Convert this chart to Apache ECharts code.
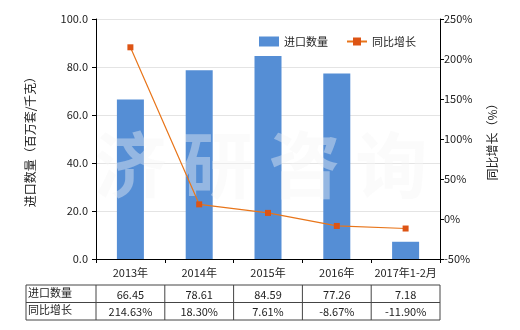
<!DOCTYPE html>
<html><head><meta charset="utf-8">
<script src="https://cdn.jsdelivr.net/npm/echarts@6/dist/echarts.min.js"></script>
<style>html,body{margin:0;padding:0;background:#fff}#c{width:520px;height:330px}</style>
</head><body><div id="c"></div>
<script>
const categories = ['2013年', '2014年', '2015年', '2016年', '2017年1-2月'];
const importQty = [66.45, 78.61, 84.59, 77.26, 7.18];
const yoyGrowth = [214.63, 18.30, 7.61, -8.67, -11.90];
const qtyLabels = ['66.45', '78.61', '84.59', '77.26', '7.18'];
const growthLabels = ['214.63%', '18.30%', '7.61%', '-8.67%', '-11.90%'];
const seriesNames = ['进口数量', '同比增长'];
const leftTitle = '进口数量（百万套/千克）';
const rightTitle = '同比增长（%）';
const watermark = ['济', '研', '咨', '询'];

const FONT = '"Noto Sans CJK SC", sans-serif';
const TXT = '#222';
const chart = echarts.init(document.getElementById('c'), null, {renderer: 'canvas'});
const G = {left: 96, right: 80, top: 19, bottom: 71};

chart.setOption({
  animation: false,
  textStyle: {fontFamily: FONT},
  legend: {
    left: 254, top: 31, itemWidth: 20, itemHeight: 10, itemGap: 18,
    textStyle: {fontSize: 11, color: TXT, fontFamily: FONT},
    data: [{name: seriesNames[0], icon: 'rect'}, {name: seriesNames[1]}]
  },
  grid: G,
  xAxis: {
    type: 'category', data: categories,
    axisLine: {lineStyle: {color: '#000'}},
    axisTick: {show: true, length: 4, lineStyle: {color: '#000'}},
    axisLabel: {fontSize: 11, color: TXT, margin: 8, fontFamily: FONT, interval: 0}
  },
  yAxis: [{
    type: 'value', min: 0, max: 100, interval: 20,
    name: leftTitle, nameLocation: 'middle', nameGap: 60,
    nameTextStyle: {fontSize: 12, color: TXT, fontFamily: FONT},
    axisLine: {show: true, lineStyle: {color: '#000'}},
    axisTick: {show: true, length: 4, lineStyle: {color: '#000'}},
    axisLabel: {fontSize: 11, color: TXT, formatter: v => v.toFixed(1), fontFamily: FONT},
    splitLine: {lineStyle: {color: '#e4e4e4'}}
  }, {
    type: 'value', min: -50, max: 250, interval: 50,
    name: rightTitle, nameLocation: 'middle', nameGap: 46,
    nameTextStyle: {fontSize: 12, color: TXT, fontFamily: FONT},
    axisLine: {show: true, lineStyle: {color: '#000'}},
    axisTick: {show: true, length: 4, lineStyle: {color: '#000'}},
    axisLabel: {fontSize: 11, color: TXT, formatter: '{value}%', fontFamily: FONT, margin: 4},
    splitLine: {show: false}
  }],
  series: [{
    name: seriesNames[0], type: 'bar', data: importQty, barWidth: 27,
    itemStyle: {color: '#558ed5'}, z: 2
  }, {
    name: seriesNames[1], type: 'line', yAxisIndex: 1, data: yoyGrowth,
    symbol: 'rect', symbolSize: 6,
    lineStyle: {color: '#e8751a', width: 1.2},
    itemStyle: {color: '#dd5414'}, z: 5
  }]
});

const els = [];
const wmStart = chart.convertToPixel({xAxisIndex: 0}, 0);
watermark.forEach((ch, i) => {
  els.push({type: 'text', z: 3, silent: true,
    x: wmStart + i * 87, y: 165,
    style: {text: ch, fontSize: 72, fontWeight: 'bold', fontFamily: FONT,
      fill: 'rgba(246,246,246,0.4)', align: 'center', verticalAlign: 'middle'}});
});
const x0 = 26;
const xs = categories.map((c, i) => chart.convertToPixel({xAxisIndex: 0}, i));
const step = xs.length > 1 ? xs[1] - xs[0] : 68;
const xL = xs[0] - step / 2, xR = xs[xs.length - 1] + step / 2;
const rowTop = 285, rowH = 17.5;
const ln = (a, b, c, d) => els.push({type: 'line', z: 10, shape: {x1: a, y1: b, x2: c, y2: d}, style: {stroke: '#444', lineWidth: 1}});
for (let r = 0; r <= 2; r++) ln(x0, rowTop + r * rowH, xR, rowTop + r * rowH);
ln(x0, rowTop, x0, rowTop + 2 * rowH);
for (let i = 0; i <= xs.length; i++) ln(xL + i * step, rowTop, xL + i * step, rowTop + 2 * rowH);
const rows = [[seriesNames[0], qtyLabels], [seriesNames[1], growthLabels]];
rows.forEach((row, r) => {
  const cy = rowTop + r * rowH + rowH / 2;
  els.push({type: 'text', z: 10, x: x0 + 2, y: cy - 1, style: {text: row[0], fontSize: 11, fontFamily: FONT, fill: TXT, align: 'left', verticalAlign: 'middle'}});
  row[1].forEach((t, i) => els.push({type: 'text', z: 10, x: xs[i], y: cy + 1, style: {text: t, fontSize: 11, fontFamily: FONT, fill: TXT, align: 'center', verticalAlign: 'middle'}}));
});
chart.setOption({graphic: {elements: els}});
</script></body></html>
